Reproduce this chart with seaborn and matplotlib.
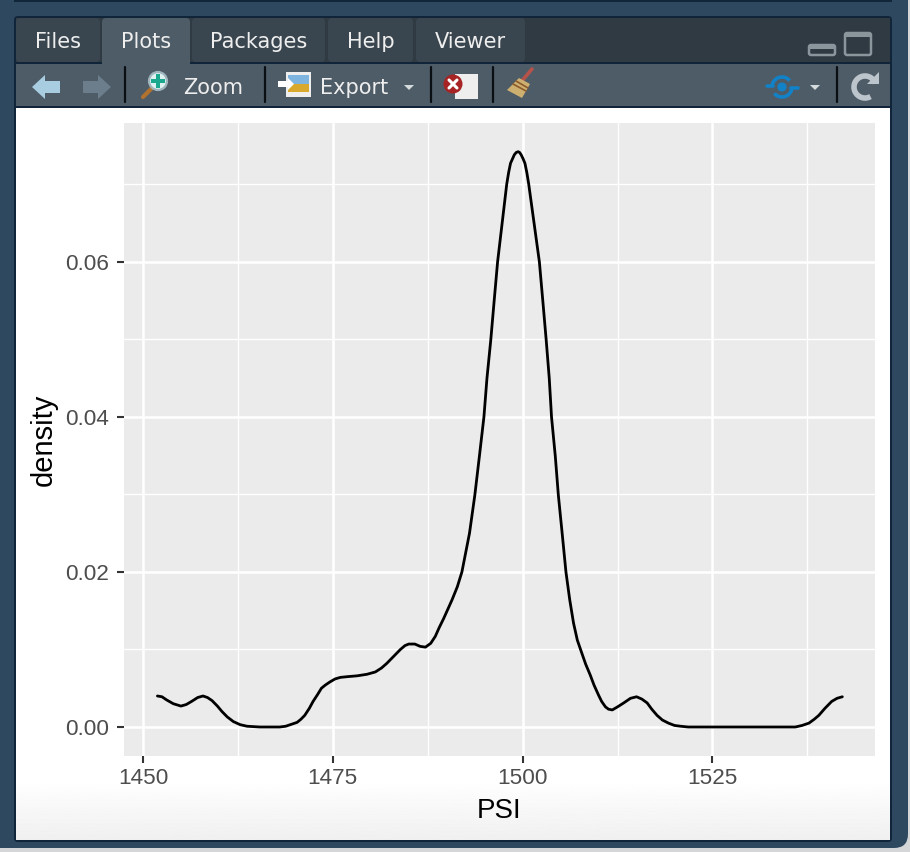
import numpy as np
import pandas as pd
import matplotlib
matplotlib.use("Agg")
import matplotlib.pyplot as plt
import seaborn as sns
from matplotlib.patches import Rectangle, FancyBboxPatch, Polygon, Circle, Arc
from matplotlib.ticker import MultipleLocator

#density curve
psi = [1451.9, 1452.5, 1453.1, 1454.0, 1455.0, 1455.7, 1456.4, 1457.2, 1457.9, 1458.5,
       1459.1, 1459.8, 1460.4, 1461.1, 1461.9, 1462.8, 1463.7, 1465.4, 1468.0, 1468.8,
       1469.4, 1470.3, 1470.8, 1471.3, 1471.9, 1472.4, 1473.0, 1473.5, 1474.0, 1474.6,
       1475.3, 1476.0, 1477.0, 1478.2, 1479.5, 1480.6, 1481.4, 1482.1, 1483.0, 1483.9,
       1484.5, 1485.0, 1485.8, 1486.5, 1487.2, 1487.9, 1488.5, 1489.0, 1489.6, 1490.7,
       1491.4, 1492.0, 1492.5, 1493.0, 1493.7, 1494.3, 1494.9, 1495.3, 1495.8, 1496.25,
       1496.7, 1497.3, 1497.6, 1497.9, 1498.15, 1498.4, 1498.9, 1499.15, 1499.4, 1499.6,
       1499.8, 1500.05, 1500.3, 1500.55, 1500.8, 1501.15, 1501.5, 1502.2, 1502.65, 1503.1,
       1503.5, 1503.8, 1504.3, 1504.7, 1505.2, 1505.7, 1506.2, 1506.7, 1507.2, 1507.8,
       1508.3, 1508.9, 1509.4, 1510.0, 1510.4, 1510.9, 1511.3, 1511.8, 1512.5, 1513.3,
       1514.2, 1515.0, 1515.7, 1516.4, 1517.0, 1517.7, 1518.4, 1519.2, 1520.0, 1520.8,
       1521.8, 1535.9, 1536.8, 1537.7, 1538.4, 1539.0, 1539.8, 1540.7, 1541.4, 1542.1]
density = [.0040, .0039, .0035, .0030, .0027, .0029, .0033, .0038, .0040, .0038,
           .0034, .0027, .0020, .0013, .0007, .0003, .0001, .0, .0, .0001,
           .0003, .0006, .0010, .0015, .0024, .0033, .0042, .0050, .0054, .0058,
           .0062, .0064, .0065, .0066, .0068, .0071, .0076, .0082, .0091, .0100,
           .0105, .0107, .0107, .0104, .0103, .0108, .0117, .0128, .0140, .0164,
           .0181, .0200, .0225, .0250, .0299, .0349, .0400, .0450, .0499, .0550,
           .0600, .0650, .0675, .0700, .0715, .0727, .0738, .0741, .0742, .0741,
           .0738, .0733, .0727, .0715, .0700, .0675, .0650, .0600, .0550, .0499,
           .0450, .0400, .0349, .0299, .0250, .0200, .0164, .0134, .0112, .0095,
           .0081, .0067, .0054, .0041, .0033, .0026, .0023, .0022, .0026, .0031,
           .0037, .0039, .0036, .0031, .0023, .0015, .0009, .0005, .0002, .0001,
           .0, .0, .0002, .0005, .0010, .0015, .0024, .0033, .0037, .0039]

x_ticks = [1450, 1475, 1500, 1525]
y_ticks = [0.00, 0.02, 0.04, 0.06]
y_tick_labels = ["0.00", "0.02", "0.04", "0.06"]

tab_names = ["Files", "Plots", "Packages", "Help", "Viewer"]
tab_edges = [(16, 100), (102, 190), (192, 325), (328, 413), (416, 525)]

df = pd.DataFrame({"PSI": psi, "density": density})

sns.set_theme(style="darkgrid", rc={"axes.facecolor": "#EBEBEB", "grid.color": "white",
                                    "figure.facecolor": "#D4D6D8"})
plt.rcParams["font.family"] = ["Liberation Sans", "DejaVu Sans"]

fig = plt.figure(figsize=(9.1, 8.52), dpi=100)

#RSTUDIO WINDOW AROUND THE PLOT, in pixel coordinates
bg = fig.add_axes([0, 0, 1, 1])
bg.set_xlim(0, 910)
bg.set_ylim(852, 0)
bg.axis("off")


def box(x0, y0, x1, y1, color, z=1):
    bg.add_patch(Rectangle((x0, y0), x1 - x0, y1 - y0, fc=color, ec="none", zorder=z))


bg.add_patch(FancyBboxPatch((-30, -30), 938, 878, boxstyle="round,pad=0,rounding_size=14",
                            fc="#2E4860", ec="none", zorder=0))
box(14, 0, 892, 2, "#12263A")
bg.add_patch(FancyBboxPatch((14, 16), 878, 826, boxstyle="round,pad=0,rounding_size=4",
                            fc="#10253A", ec="none", zorder=1))
box(16, 18, 890, 62, "#2F3A43")
box(16, 64, 890, 106, "#4E5C67")
box(16, 108, 890, 840, "white")
#fade at the bottom of the plot area
fade = np.linspace(1, 0.94, 64).reshape(-1, 1)
bg.imshow(fade, extent=(16, 890, 840, 780), cmap="gray", vmin=0, vmax=1, aspect="auto", zorder=2)
bg.set_xlim(0, 910)
bg.set_ylim(852, 0)

for name, (left, right) in zip(tab_names, tab_edges):
    active = name == "Plots"
    bg.add_patch(FancyBboxPatch((left, 18), right - left, 60 if active else 44,
                                boxstyle="round,pad=0,rounding_size=4",
                                fc="#4E5C67" if active else "#3A464F", ec="none", zorder=3))
    bg.text((left + right) / 2, 41.5, name, color="#EEEEEE", fontsize=15, family="DejaVu Sans",
            ha="center", va="center", zorder=6)
box(16, 62, 102, 64, "#10253A", 4)
box(190, 62, 890, 64, "#10253A", 4)
box(16, 64, 890, 106, "#4E5C67", 3.5)
box(102, 60, 190, 66, "#4E5C67", 4)
box(16, 106, 890, 108, "#10253A", 4)

#minimise and maximise buttons
bg.add_patch(FancyBboxPatch((809, 45), 26, 10, boxstyle="round,pad=0,rounding_size=2",
                            fc="none", ec="#8A959C", lw=1.8, zorder=5))
box(809, 45, 835, 49, "#8A959C", 5)
bg.add_patch(FancyBboxPatch((845, 33), 26, 22, boxstyle="round,pad=0,rounding_size=2",
                            fc="none", ec="#8A959C", lw=1.8, zorder=5))
box(845, 33, 871, 37, "#8A959C", 5)

#toolbar separators
for sep in [125, 265, 431, 493, 837]:
    bg.plot([sep, sep], [67, 102], color="#0A0F14", lw=1.6, zorder=5)

#back and forward arrows
bg.add_patch(Polygon([(32, 87), (45, 75), (45, 81), (60, 81), (60, 93), (45, 93), (45, 99)],
                     fc="#A8CCE0", ec="none", zorder=5))
bg.add_patch(Polygon([(111, 87), (98, 75), (98, 81), (83, 81), (83, 93), (98, 93), (98, 99)],
                     fc="#6C7E8C", ec="none", zorder=5))

#zoom magnifier
bg.plot([143, 152], [97, 88], color="#B0722E", lw=3, solid_capstyle="round", zorder=5)
bg.add_patch(Circle((158, 81), 9, fc="#DDF2F0", ec="#9FB4BC", lw=1.6, zorder=5))
box(156, 74, 160, 88, "#1AA88F", 6)
box(151, 79, 165, 83, "#1AA88F", 6)
bg.text(183, 88, "Zoom", color="#EEEEEE", fontsize=15, family="DejaVu Sans", ha="left",
        va="center", zorder=6)

#export picture
box(286, 72, 311, 97, "#EEEEEE", 5)
box(288, 75, 309, 84, "#7DB4E0", 6)
box(288, 84, 309, 92, "#D9A92E", 6)
bg.add_patch(Polygon([(278, 81), (288, 81), (288, 78), (294, 84), (288, 90), (288, 87), (278, 87)],
                     fc="white", ec="none", zorder=7))
bg.text(320, 88, "Export", color="#EEEEEE", fontsize=15, family="DejaVu Sans", ha="left",
        va="center", zorder=6)

#dropdown triangles
for tx in [409, 815]:
    bg.add_patch(Polygon([(tx - 5, 85), (tx + 5, 85), (tx, 90)], fc="#D5DADD", ec="none", zorder=5))

#remove plot
box(455, 74, 478, 99, "#EEEEEE", 5)
bg.add_patch(Circle((453, 84), 9.5, fc="#A82424", ec="none", zorder=6))
bg.plot([449, 457], [80, 88], color="white", lw=2.2, zorder=7)
bg.plot([449, 457], [88, 80], color="white", lw=2.2, zorder=7)

#broom
bg.plot([532, 521], [69, 82], color="#B5524A", lw=2.6, zorder=5)
bg.add_patch(Polygon([(507, 90), (519, 78), (530, 84), (522, 98)], fc="#CDB070", ec="none", zorder=6))
bg.plot([513, 526], [84, 91], color="#8C5A2A", lw=1.2, zorder=7)
bg.plot([516, 528], [81, 88], color="#8C5A2A", lw=1.2, zorder=7)

#sync icon
bg.add_patch(Circle((782, 87), 4.5, fc="#1282C8", ec="none", zorder=5))
bg.add_patch(Arc((782, 87), 20, 20, theta1=180, theta2=320, ec="#1282C8", lw=2.6, zorder=5))
bg.add_patch(Arc((782, 87), 20, 20, theta1=0, theta2=140, ec="#1282C8", lw=2.6, zorder=5))
bg.plot([767, 773], [86, 86], color="#1282C8", lw=2.6, zorder=5)
bg.plot([791, 798], [88, 88], color="#1282C8", lw=2.6, zorder=5)

#refresh icon
bg.add_patch(Arc((865, 87), 22, 22, theta1=60, theta2=340, ec="#BCC4CC", lw=4, zorder=5))
bg.add_patch(Polygon([(867, 84), (879, 84), (879, 72)], fc="#BCC4CC", ec="none", zorder=5))

#THE PLOT
ax = fig.add_axes([124 / 910, 1 - 756 / 852, 751 / 910, 633 / 852])
sns.lineplot(data=df, x="PSI", y="density", color="black", linewidth=2.0, sort=False, ax=ax)

ax.set_xlim(1447.5, 1546.4)
ax.set_ylim(-0.00374, 0.0779)
ax.set_xticks(x_ticks)
ax.set_yticks(y_ticks)
ax.set_yticklabels(y_tick_labels)
ax.xaxis.set_minor_locator(MultipleLocator(12.5))
ax.yaxis.set_minor_locator(MultipleLocator(0.01))
ax.set_axisbelow(True)
ax.grid(which="major", color="white", lw=1.8)
ax.grid(which="minor", color="white", lw=0.95)
ax.tick_params(which="major", length=5, width=1.5, color="#333333", labelcolor="#4D4D4D",
               labelsize=16.2, bottom=True, left=True)
ax.tick_params(axis="x", which="major", pad=4)
ax.tick_params(axis="y", which="major", pad=5.5)
ax.tick_params(which="minor", length=0)
for s in ax.spines.values():
    s.set_visible(False)
ax.set_xlabel("PSI", fontsize=20, color="black", labelpad=6)
ax.set_ylabel("density", fontsize=21, color="black", labelpad=5.5)

plt.savefig("out.png", dpi=100)
